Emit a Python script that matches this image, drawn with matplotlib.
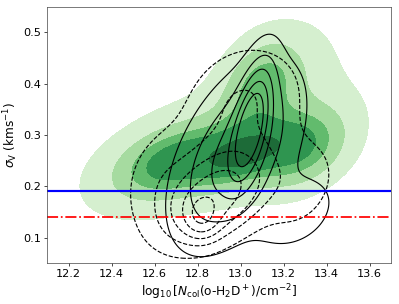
import numpy as np
import matplotlib
matplotlib.use("Agg")
import matplotlib.pyplot as plt

# Gaussian-mixture descriptions of the three density estimates (data units)
# columns: centre x, centre y, sigma x, sigma y, correlation, weight
green_mx = [13.02, 12.68, 13.00, 13.28, 13.10, 12.90, 13.30]
green_my = [0.265, 0.247, 0.262, 0.275, 0.400, 0.290, 0.430]
green_sx = [0.10, 0.17, 0.15, 0.14, 0.12, 0.38, 0.12]
green_sy = [0.022, 0.045, 0.045, 0.050, 0.060, 0.090, 0.070]
green_rho = [0.5, 0.4, 0.4, 0.3, 0.3, 0.6, 0.3]
green_w = [0.35, 0.50, 0.45, 0.47, 0.38, 0.14, 0.05]
green_levels = [0.05, 0.18, 0.33, 0.46, 0.72, 1.01]
green_colors = ['#d5efcf', '#a6dba0', '#62bb6d', '#2f9550', '#1d6b38']

solid_mx = [13.05, 12.98, 13.25]
solid_my = [0.322, 0.26, 0.15]
solid_sx = [0.055, 0.15, 0.12]
solid_sy = [0.065, 0.09, 0.045]
solid_rho = [0.55, 0.5, 0.3]
solid_w = [1.0, 0.45, 0.10]
solid_levels = [0.03, 0.12, 0.25, 0.42, 0.62]

dash_mx = [12.82, 12.88, 13.00, 12.95, 13.28, 12.60]
dash_my = [0.143, 0.18, 0.39, 0.29, 0.20, 0.22]
dash_sx = [0.05, 0.15, 0.16, 0.22, 0.12, 0.10]
dash_sy = [0.025, 0.055, 0.06, 0.085, 0.06, 0.06]
dash_rho = [0.0, 0.4, 0.2, 0.45, 0.3, 0.3]
dash_w = [0.45, 0.6, 0.10, 0.12, 0.10, 0.07]
dash_levels = [0.06, 0.165, 0.3, 0.5, 0.8]

blue_level = 0.19
red_level = 0.14


def mixture(X, Y, mx, my, sx, sy, rho, w):
    Z = np.zeros_like(X)
    for a, b, c, d, r, k in zip(mx, my, sx, sy, rho, w):
        u = (X - a) / c
        v = (Y - b) / d
        q = (u * u - 2 * r * u * v + v * v) / (1 - r * r)
        Z += k * np.exp(-0.5 * q)
    return Z / Z.max()


xg = np.linspace(12.0, 13.8, 400)
yg = np.linspace(0.0, 0.6, 400)
X, Y = np.meshgrid(xg, yg)

fig = plt.figure(figsize=(6.4, 4.876), dpi=62.35)
ax = fig.add_axes([0.118, 0.134, 0.862, 0.844])

Zg = mixture(X, Y, green_mx, green_my, green_sx, green_sy, green_rho, green_w)
ax.contourf(X, Y, Zg, levels=green_levels, colors=green_colors)

Zs = mixture(X, Y, solid_mx, solid_my, solid_sx, solid_sy, solid_rho, solid_w)
ax.contour(X, Y, Zs, levels=solid_levels, colors='k', linewidths=1.3,
           linestyles='solid')

Zd = mixture(X, Y, dash_mx, dash_my, dash_sx, dash_sy, dash_rho, dash_w)
ax.contour(X, Y, Zd, levels=dash_levels, colors='k', linewidths=1.3,
           linestyles='dashed')

ax.axhline(blue_level, color='b', lw=2.5)
ax.axhline(red_level, color='r', lw=2.0, ls='-.')

ax.set_xlim(12.1, 13.7)
ax.set_ylim(0.05, 0.55)
ax.set_xticks([12.2, 12.4, 12.6, 12.8, 13.0, 13.2, 13.4, 13.6])
ax.set_yticks([0.1, 0.2, 0.3, 0.4, 0.5])
ax.tick_params(labelsize=13)
ax.set_xlabel(r'$\log_{10}[N_{\rm col}$(o-H$_2$D$^+$)/cm$^{-2}$]', fontsize=14)
ax.set_ylabel(r'$\sigma_{\rm V}$ (kms$^{-1}$)', fontsize=14)
for s in ax.spines.values():
    s.set_color('#444444')

fig.savefig('out.png', dpi=62.35)
